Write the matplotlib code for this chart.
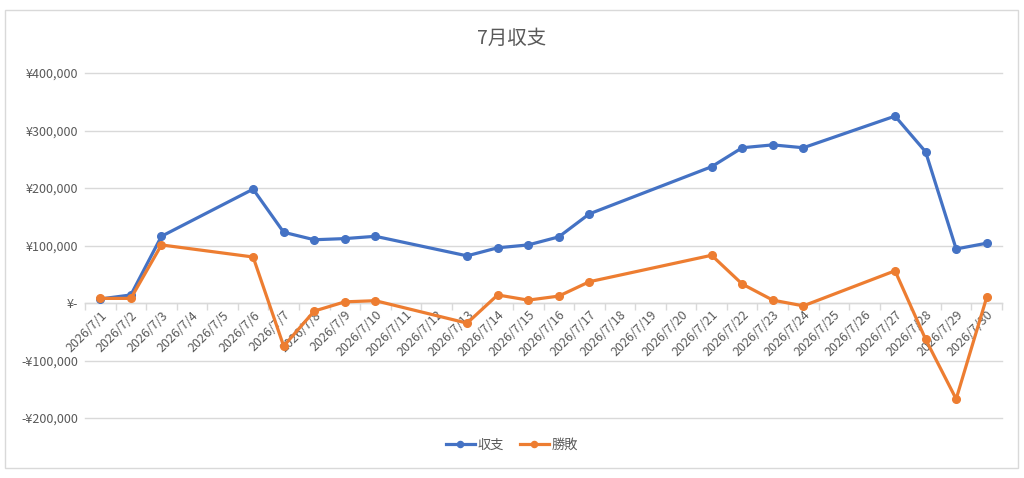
import matplotlib
matplotlib.use('Agg')
import matplotlib.pyplot as plt
import matplotlib.patches as patches
from matplotlib.ticker import FuncFormatter, FixedLocator

plt.rcParams['font.family'] = ['Noto Sans CJK JP', 'DejaVu Sans']

# data
days = [1, 2, 3, 6, 7, 8, 9, 10, 13, 14, 15, 16, 17, 21, 22, 23, 24, 27, 28, 29, 30]
balance = [7000, 14000, 116000, 198000, 123000, 110000, 112000, 116000, 82000, 96000,
           101000, 115000, 155000, 237000, 270000, 275000, 270000, 325000, 263000, 94000, 104000]
winloss = [8000, 8000, 101000, 80000, -75000, -14000, 2000, 4000, -35000, 14000,
           5000, 12000, 37000, 83000, 33000, 5000, -5000, 56000, -63000, -167000, 10000]
date_labels = [f'2026/7/{d}' for d in range(1, 31)]
yticks = [-200000, -100000, 0, 100000, 200000, 300000, 400000]

BLUE = '#4472C4'
ORANGE = '#ED7D31'
GREY_TXT = '#595959'
GRID = '#D9D9D9'

fig = plt.figure(figsize=(10.24, 4.78), dpi=100)
ax = fig.add_axes([85 / 1024, 1 - 418 / 478, (1002 - 85) / 1024, (418 - 73) / 478])

# outer chart border
fig.patches.append(patches.Rectangle((5 / 1024, 1 - 468 / 478), 1013 / 1024, 458 / 478,
                                     transform=fig.transFigure, fill=False,
                                     edgecolor=GRID, linewidth=1))

ax.plot(days, balance, color=BLUE, linewidth=2.3, marker='o', markersize=5.5, label='収支', zorder=3)
ax.plot(days, winloss, color=ORANGE, linewidth=2.3, marker='o', markersize=5.5, label='勝敗', zorder=3)

ax.set_xlim(0.5, 30.5)
ax.set_ylim(-200000, 400000)

ax.set_yticks(yticks)
def yen(v, pos):
    if v == 0:
        return '¥-'
    if v < 0:
        return f'-¥{abs(int(v)):,}'
    return f'¥{int(v):,}'
ax.yaxis.set_major_formatter(FuncFormatter(yen))
ax.grid(axis='y', color=GRID, linewidth=1)
for gl in ax.get_ygridlines():
    gl.set_clip_on(False)
ax.set_axisbelow(True)

for s in ['top', 'right', 'left']:
    ax.spines[s].set_visible(False)
ax.spines['bottom'].set_position(('data', 0))
ax.spines['bottom'].set_color(GRID)
ax.spines['bottom'].set_linewidth(1)

ax.xaxis.set_major_locator(FixedLocator(range(1, 31)))
ax.set_xticklabels(date_labels, rotation=45, ha='right', rotation_mode='anchor',
                   fontsize=9, color=GREY_TXT)
ax.xaxis.set_minor_locator(FixedLocator([d + 0.5 for d in range(0, 31)]))
ax.tick_params(axis='x', which='major', length=0, pad=4)
ax.tick_params(axis='x', which='minor', length=5, color=GRID, width=1)
ax.tick_params(axis='y', length=0, labelsize=9, labelcolor=GREY_TXT, pad=5)

fig.text(0.5, 1 - 38 / 478, '7月収支', ha='center', va='center', fontsize=14, color=GREY_TXT)

fig.legend(loc='center', bbox_to_anchor=(0.5, 1 - 445 / 478), ncol=2, frameon=False,
           fontsize=9.5, labelcolor=GREY_TXT, handlelength=2.2, columnspacing=1.2,
           handletextpad=0.2, markerscale=0.8)

fig.savefig('out.png', dpi=100)
